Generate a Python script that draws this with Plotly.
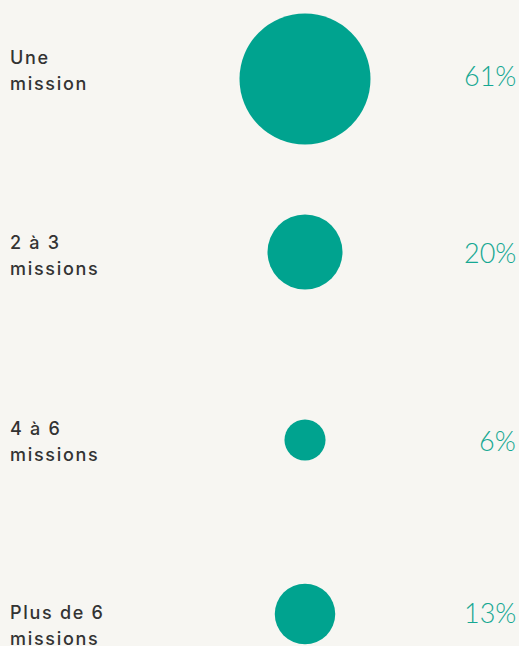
import plotly.graph_objects as go

# Share of respondents by number of missions
categories = ["Une<br>mission", "2 à 3<br>missions", "4 à 6<br>missions", "Plus de 6<br>missions"]
values = [61, 20, 6, 13]
pct_labels = ["61%", "20%", "6%", "13%"]

# row layout (pixel rows of the 519x646 canvas)
row_y = [79, 252, 440, 614]
label_y = [70, 255, 441, 625]
pct_y = [75, 252, 440, 612]

TEAL = "#00a38f"
BG = "#f7f6f2"

fig = go.Figure()

fig.add_trace(go.Scatter(
    x=[305] * len(values),
    y=row_y,
    mode="markers",
    marker=dict(
        size=values,
        sizemode="area",
        sizeref=2 * 61 / 131 ** 2,
        color=TEAL,
        opacity=1,
        line=dict(width=0),
    ),
    hoverinfo="skip",
    showlegend=False,
))

for cat, ly in zip(categories, label_y):
    top, bottom = cat.split("<br>")
    for txt, dy in ((top, -13), (bottom, 13)):
        fig.add_annotation(
            x=8, y=ly + dy,
            text='<span style="letter-spacing:1.7px">%s</span>' % txt,
            showarrow=False, xanchor="left", yanchor="middle",
            font=dict(family="Inter", size=18, color="#333333", weight=500),
        )

for pct, py in zip(pct_labels, pct_y):
    fig.add_annotation(
        x=518, y=py, text=pct, showarrow=False,
        xanchor="right", yanchor="middle",
        font=dict(family="Lato", size=27, color="#16a893", weight=300),
    )

fig.update_layout(
    width=519, height=646,
    margin=dict(l=0, r=0, t=0, b=0),
    paper_bgcolor=BG, plot_bgcolor=BG,
    xaxis=dict(range=[0, 519], visible=False, fixedrange=True),
    yaxis=dict(range=[646, 0], visible=False, fixedrange=True),
)

fig.write_html(
    "out.html",
    config={"displayModeBar": False},
    post_script="document.body.style.margin='0';document.body.style.background='%s';" % BG,
)
